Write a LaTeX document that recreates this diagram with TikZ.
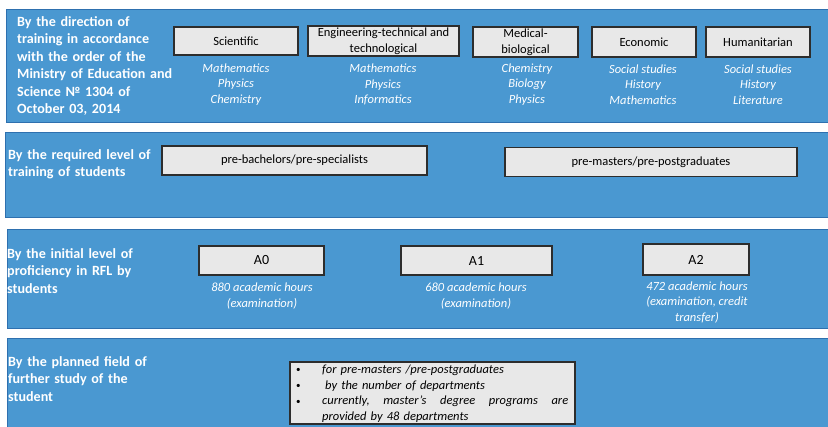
\documentclass[tikz,border=0pt]{standalone}
\usepackage{fontspec}
\setmainfont{Carlito}
\definecolor{panelblue}{RGB}{74,152,209}
\definecolor{paneledge}{RGB}{46,112,175}
\definecolor{boxgray}{RGB}{232,232,232}
\definecolor{boxedge}{RGB}{45,45,45}
\newcommand\smallbul{\makebox[26pt][l]{\upshape\fontsize{9}{9}\selectfont\raisebox{0.5pt}{•}}}
\begin{document}
\begin{tikzpicture}[x=1pt,y=-1pt,
  panel/.style={fill=panelblue,draw=paneledge,line width=0.8pt},
  title/.style={anchor=base west,inner sep=0pt,text=white,align=left,text width=175pt,
    font=\fontsize{14.1}{17.5}\selectfont\bfseries},
  catbox/.style={draw=boxedge,fill=boxgray,line width=1.1pt,inner sep=1pt,align=center,
    font=\fontsize{12.5}{15.5}\selectfont},
  lvlbox/.style={catbox,font=\fontsize{14}{16}\selectfont},
  subj/.style={text=white,align=center,inner sep=0pt,font=\fontsize{12.5}{15.5}\selectfont\itshape}
]
\useasboundingbox (0,0) rectangle (828,427);
% panels
\draw[panel] (6,9) rectangle (832,122);
\draw[panel] (5,132) rectangle (832,217);
\draw[panel] (7,229) rectangle (832,328);
\draw[panel] (7,338) rectangle (832,432);

% panel 1
\node[title] (t1) at (17,26.5) {By the direction of\\training in accordance\\with the order of the\\Ministry of Education and\\Science № 1304 of\\October 03, 2014};
\node[catbox,minimum width=124pt,minimum height=28pt] (sci) at (236,41) {Scientific};
\node[catbox,minimum width=151pt,minimum height=30pt] (eng) at (383.5,41) {Engineering-technical and\\technological};
\node[catbox,minimum width=105pt,minimum height=30pt] (med) at (525.5,42) {Medical-\\biological};
\node[catbox,minimum width=104pt,minimum height=30pt] (eco) at (644,42) {Economic};
\node[catbox,minimum width=104pt,minimum height=30pt] (hum) at (758,42) {Humanitarian};
\node[subj] (ssci) at (236,84.5) {Mathematics\\Physics\\Chemistry};
\node[subj] (seng) at (383,84.5) {Mathematics\\Physics\\Informatics};
\node[subj] (smed) at (527,84.5) {Chemistry\\Biology\\Physics};
\node[subj] (seco) at (643,84.5) {Social studies\\History\\Mathematics};
\node[subj] (shum) at (758,84.5) {Social studies\\History\\Literature};

% panel 2
\node[title] (t2) at (8,159.5) {By the required level of\\training of students};
\node[catbox,minimum width=265pt,minimum height=29pt] (pb) at (294.5,160.5) {pre-bachelors/pre-specialists};
\node[catbox,minimum width=292pt,minimum height=29pt] (pm) at (651,162) {pre-masters/pre-postgraduates};

% panel 3
\node[title] (t3) at (7,258.5) {By the initial level of\\proficiency in RFL by\\students};
\node[lvlbox,minimum width=125pt,minimum height=29pt] (a0) at (261.5,260.5) {A0};
\node[lvlbox,minimum width=151pt,minimum height=29pt] (a1) at (476.5,260.5) {A1};
\node[lvlbox,minimum width=106pt,minimum height=31pt] (a2) at (696,259.5) {A2};
\node[subj] (h0) at (262,296) {880 academic hours\\(examination)};
\node[subj] (h1) at (476,296) {680 academic hours\\(examination)};
\node[subj] (h2) at (697,302.5) {472 academic hours\\(examination, credit\\transfer)};

% panel 4
\node[title] (t4) at (8,366.5) {By the planned field of\\further study of the\\student};
\node[draw=boxedge,fill=boxgray,line width=1.1pt,minimum width=285pt,minimum height=62pt,inner sep=0pt] (fld) at (432.5,393) {};
\node[anchor=base west,inner sep=0pt,align=left,text width=276pt,font=\fontsize{12.5}{15.6}\selectfont\itshape] (lst) at (296,373.5)
 {\smallbul for pre-masters /pre-postgraduates\\
  \smallbul\hspace{3pt}by the number of departments\\
  \smallbul\makebox[246pt][s]{currently,\hfill master’s\hfill degree\hfill programs\hfill are}\\
  \hspace*{26pt}provided by 48 departments};
\end{tikzpicture}
\end{document}
